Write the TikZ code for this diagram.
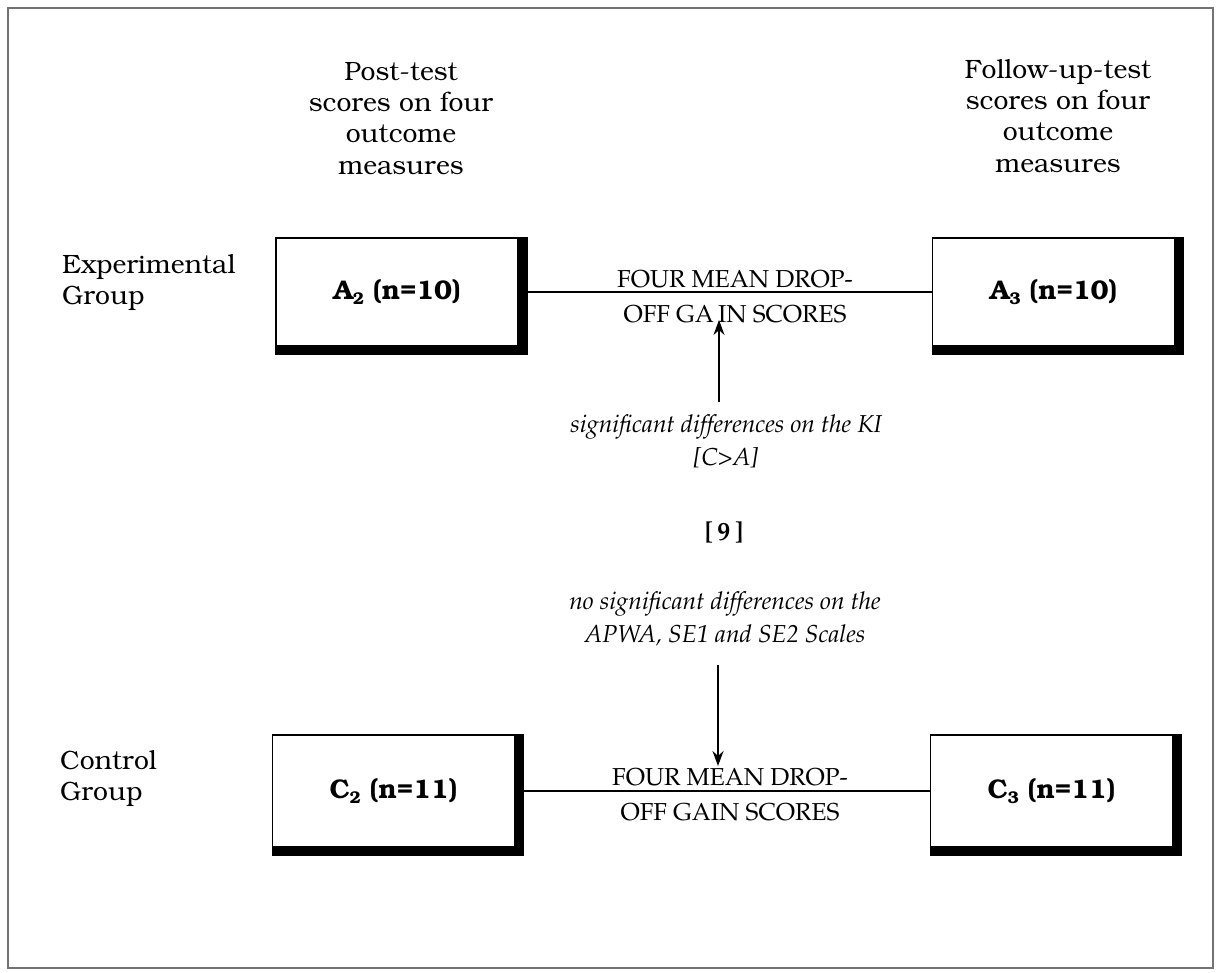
\documentclass[tikz,border=0pt]{standalone}
\usepackage[T1]{fontenc}
\usetikzlibrary{arrows.meta,calc}
\newcommand{\bkmfont}{\fontfamily{pbk}\selectfont}
\newcommand{\palfont}{\fontfamily{ppl}\selectfont}
\begin{document}
\begin{tikzpicture}[x=1pt,y=-1pt,
  toplbl/.style={font=\bkmfont\fontsize{26.5}{31.3}\selectfont, align=center, inner sep=0pt, anchor=base},
  grplbl/.style={font=\bkmfont\fontsize{26.5}{31}\selectfont, align=left, inner sep=0pt, anchor=base west},
  gbox/.style={draw, line width=1.8pt, fill=white, minimum width=242pt, inner sep=0pt,
               font=\bkmfont\bfseries\fontsize{27}{29}\selectfont},
  caps/.style={font=\palfont\fontsize{24.5}{35}\selectfont, align=center, inner sep=0pt, anchor=base},
  note/.style={font=\palfont\itshape\fontsize{24.5}{33}\selectfont, align=center, inner sep=0pt, anchor=base},
  conn/.style={line width=1.5pt},
  arr/.style={line width=1.7pt, -{Stealth[length=15pt,width=11pt]}}
]
\useasboundingbox (0,0) rectangle (1220,972);
\draw[black!55, line width=1.5pt] (8,8) rectangle (1213,968);

% column headings (anchor = baseline of last line)
\node[toplbl] (posthd) at (401,174) {Post-test\\scores on four\\outcome\\measures};
\node[toplbl] (follhd) at (1058,172) {Follow-up-test\\scores on four\\outcome\\measures};

% row labels
\node[grplbl] (explbl) at (62,304) {Experimental\\Group};
\node[grplbl] (ctllbl) at (60,800) {Control\\Group};

% boxes
\node[gbox, minimum height=108pt] (A2) at (397,292)
  {A\raisebox{-5pt}{\fontsize{17}{17}\selectfont 2} (n=10)};
\node[gbox, minimum height=108pt] (A3) at (1053.5,292)
  {A\raisebox{-5pt}{\fontsize{17}{17}\selectfont 3} (n=10)};
\node[gbox, minimum height=112pt] (C2) at (393.5,791)
  {C\raisebox{-5pt}{\fontsize{17}{17}\selectfont 2} (n=11)};
\node[gbox, minimum height=112pt] (C3) at (1051.5,791)
  {C\raisebox{-5pt}{\fontsize{17}{17}\selectfont 3} (n=11)};

% connectors between boxes
\draw[conn] (A2.east) -- (A3.west);
\draw[conn] (C2.east) -- (C3.west);

% shadows
\foreach \n in {A2,A3,C2,C3}{
  \fill (\n.north east) rectangle ($(\n.south east)+(9,8)$);
  \fill (\n.south west) rectangle ($(\n.south east)+(9,8)$);
}

% connector labels
\node[caps] (toplab) at (735,322) {FOUR MEAN DROP-\\OFF GA\,IN SCORES};
\node[caps] (botlab) at (730,820) {FOUR MEAN DROP-\\OFF GAIN SCORES};

% notes
\node[note] (signote) at (726,465) {significant differences on the KI\\{[}C>A{]}};
\node[font=\palfont\bfseries\fontsize{26}{30}\selectfont, inner sep=0pt] (num) at (724,533) {[\,9\,]};
\node[note] (nsnote) at (725,642) {no significant differences on the\\APWA, SE1 and SE2 Scales};

% arrows
\coordinate (up0) at (719,402);
\coordinate (up1) at (719,320);
\coordinate (dn0) at (718,665);
\coordinate (dn1) at (718,766);
\draw[arr] (up0) -- (up1);
\draw[arr] (dn0) -- (dn1);
\end{tikzpicture}
\end{document}
